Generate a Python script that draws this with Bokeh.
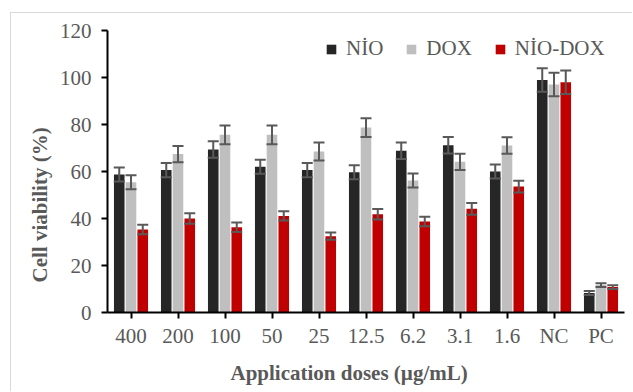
from bokeh.plotting import figure
from bokeh.models import ColumnDataSource, FactorRange, Legend, LegendItem, Title, FixedTicker
from bokeh.transform import dodge
from bokeh.embed import file_html
from bokeh.resources import INLINE

categories = ["400", "200", "100", "50", "25", "12.5", "6.2", "3.1", "1.6", "NC", "PC"]
nio = [58.7, 60.6, 69.4, 62.0, 60.6, 59.7, 68.8, 71.2, 60.0, 98.9, 8.3]
nio_err = [3.0, 3.0, 3.5, 3.0, 3.0, 3.0, 3.5, 3.5, 3.0, 5.0, 0.8]
dox = [55.4, 67.4, 75.6, 75.6, 68.5, 78.7, 56.2, 64.1, 71.1, 97.0, 11.7]
dox_err = [3.0, 3.5, 4.0, 4.0, 3.8, 4.0, 3.0, 3.5, 3.5, 5.0, 0.8]
niodox = [35.3, 40.0, 36.3, 41.1, 32.5, 41.8, 38.7, 44.1, 53.6, 98.0, 10.8]
niodox_err = [2.0, 2.2, 2.0, 2.0, 1.5, 2.2, 2.0, 2.5, 2.5, 5.0, 0.8]
series_names = ["NİO", "DOX", "NİO-DOX"]
colors = ["#262626", "#bfbfbf", "#c00000"]
y_ticks = [0, 20, 40, 60, 80, 100, 120]

FONT = "Liberation Serif"
GREY = "#595959"

p = figure(x_range=FactorRange(*categories), y_range=(0, 120),
           width=622, height=379, output_backend="svg", toolbar_location=None,
           min_border_left=96, min_border_right=9, min_border_top=17, min_border_bottom=80)
p.styles = {"margin-left": "10px", "margin-top": "12px",
            "border-left": "1px solid #d9d9d9", "border-top": "1px solid #d9d9d9"}
p.outline_line_color = None
p.xgrid.grid_line_color = None
p.ygrid.grid_line_color = None
p.background_fill_color = "white"
p.border_fill_color = "white"

offsets = [-0.25, 0.0, 0.25]
vals = [nio, dox, niodox]
errs = [nio_err, dox_err, niodox_err]
renderers = []
for name, off, v, e, c in zip(series_names, offsets, vals, errs, colors):
    src = ColumnDataSource(dict(cat=categories, val=v,
                                lo=[a - b for a, b in zip(v, e)],
                                hi=[a + b for a, b in zip(v, e)]))
    xd = dodge("cat", off, range=p.x_range)
    r = p.vbar(x=xd, top="val", width=0.225, source=src, fill_color=c, line_color=None)
    renderers.append(r)
    p.segment(x0=xd, y0="lo", x1=xd, y1="hi", source=src, line_color=GREY, line_width=2)
    p.scatter(x=xd, y="hi", marker="dash", size=11, source=src, line_color=GREY, line_width=2)
    p.scatter(x=xd, y="lo", marker="dash", size=11, source=src, line_color=GREY, line_width=2)

legend = Legend(items=[LegendItem(label=n, renderers=[r]) for n, r in zip(series_names, renderers)],
                orientation="horizontal", location=(218, 251),
                glyph_width=12, glyph_height=12, label_standoff=9, spacing=22,
                padding=0, margin=0, border_line_color=None, background_fill_alpha=0,
                label_text_font=FONT, label_text_font_size="21px", label_text_color=GREY)
p.add_layout(legend)

for ax in (p.xaxis[0], p.yaxis[0]):
    ax.axis_line_color = "black"
    ax.axis_line_width = 2
    ax.major_tick_line_color = "black"
    ax.major_tick_line_width = 2
    ax.major_tick_out = 6
    ax.major_tick_in = 0
    ax.minor_tick_line_color = None
    ax.major_label_text_font = FONT
    ax.major_label_text_font_size = "21px"
    ax.major_label_text_color = GREY

p.yaxis.ticker = FixedTicker(ticks=y_ticks)
p.yaxis.major_label_standoff = 10
p.xaxis.major_label_standoff = 5

ytitle = Title(text="Cell viability (%)", align="left", offset=30, standoff=10,
               text_font=FONT, text_font_size="21px", text_font_style="bold",
               text_color=GREY)
xtitle = Title(text="Application doses (µg/mL)", align="left", offset=123, standoff=16,
               text_font=FONT, text_font_size="21px", text_font_style="bold",
               text_color=GREY)
p.add_layout(ytitle, "left")
p.add_layout(xtitle, "below")

open("out.html", "w").write(file_html(p, INLINE))
